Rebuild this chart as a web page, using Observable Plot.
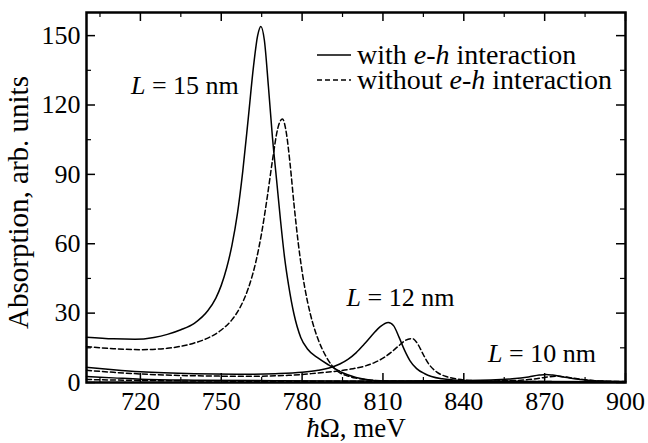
<!DOCTYPE html>
<html><head><meta charset="utf-8">
<script src="https://cdn.jsdelivr.net/npm/d3@7"></script>
<script src="https://cdn.jsdelivr.net/npm/@observablehq/plot@0.6"></script>
<style>
body{margin:0;background:#fff;}
#wrap{position:relative;width:648px;height:443px;font-family:"Liberation Serif",serif;}
#legend{position:absolute;left:316px;top:42px;font-family:"Liberation Serif",serif;font-size:28px;line-height:25px;color:#000;}
#legend .row{display:flex;align-items:center;white-space:nowrap;height:25px;}
#legend svg{margin-right:6px;}
#legend i{font-family:"Liberation Serif",serif;font-style:italic;}
</style></head><body><div id="wrap"></div>
<script>
// ---- data ----
const L15_with_x = [700,710,718,725,730,735,740,745,748,750,752,754,756,758,760,762,763.5,764.7,766,767.5,769,770.5,772,773.5,775,777,779.5,782,786,790,795,800,805,810,820,840,870,900];
const L15_with_y = [19.6,18.9,18.7,19.5,20.8,22.8,25.6,31,36.5,42,49.5,59.5,73,91.5,114,137,150,154,148,128,106,88,70,54,42,29.5,19.5,14.5,10.5,7.5,4.2,2.2,1.1,0.6,0.4,0.25,0.15,0.1];
const L15_without_x = [700,710,720,730,740,745,750,754,757,760,763,765,767,769,771,772.7,774,775.5,777,778.5,780,782,784,786,789,793,797,800,805,810,820,840,870,900];
const L15_without_y = [15.5,14.6,14.2,14.8,17.1,19.2,22.7,27.2,32.5,40.6,53,64.8,79.6,96,110,114,109,95,77,61,48,35,25.5,18.5,11,5,2.8,1.9,1.1,0.7,0.4,0.25,0.15,0.1];
const L12_with_x = [700,710,720,740,760,770,780,786,790,794,797,800,803,806,809,812,814,816,818,820,822.5,825.5,828,832,836,840,850,870,900];
const L12_with_y = [6.6,5.5,4.6,3.8,3.6,3.8,4.4,5.3,6.3,8,10,12.8,16.5,20.5,24.2,26,24.5,19.5,14,9.5,6,3.8,2.6,1.6,1.1,0.8,0.55,0.4,0.3];
const L12_without_x = [700,710,720,740,760,775,785,792,798,803,807,810,813,816,818.5,820.8,823,825,827,830,834,838,842,850,870,900];
const L12_without_y = [5.3,4.4,3.7,2.9,2.7,3.1,4,4.8,5.8,7,8.7,10.5,13,16,18.3,19,16.5,12,8,4.5,2.4,1.4,0.9,0.6,0.4,0.3];
const L10_with_x = [700,710,720,740,770,800,830,850,858,864,868,870.5,873,877,881,886,892,900];
const L10_with_y = [2.6,2,1.4,1,0.8,0.7,0.8,1.1,1.6,2.4,3.2,3.5,3.2,2.4,1.6,1,0.6,0.4];
const L10_without_x = [700,720,750,800,840,860,866,870,874,877,881,885,890,900];
const L10_without_y = [1.3,0.9,0.6,0.5,0.55,0.9,1.5,2.2,2.7,2.5,1.8,1.2,0.7,0.4];

const xMajorTicks = [720,750,780,810,840,870,900];
const xMinorTicks = [705,735,765,795,825,855,885];
const yMajorTicks = [0,30,60,90,120,150];
const yMinorTicks = [15,45,75,105,135];

const annLabels = ["*L* = 15 nm","*L* = 12 nm","*L* = 10 nm"];
const annX = [736.5,816.5,869];
const annY = [128.5,36.5,12.5];

const legendLabels = ["with *e-h* interaction","without *e-h* interaction"];
const xLabel = "*ħ*Ω, meV";
const yLabel = "Absorption, arb. units";

// ---- layout ----
const W = 648, H = 443, mL = 86, mR = 23, mT = 12, mB = 61;
const fW = W - mL - mR, fH = H - mT - mB;
const major = 9, minor = 5;

const zip = (xs, ys) => xs.map((x, i) => ({x, y: ys[i]}));
const curves = [
  {d: zip(L15_with_x, L15_with_y), dash: null},
  {d: zip(L15_without_x, L15_without_y), dash: "5,3"},
  {d: zip(L12_with_x, L12_with_y), dash: null},
  {d: zip(L12_without_x, L12_without_y), dash: "5,3"},
  {d: zip(L10_with_x, L10_with_y), dash: null},
  {d: zip(L10_without_x, L10_without_y), dash: "5,3"}
];

const tickMarks = (vals, len, sw) => [
  Plot.ruleX(vals, {x: d => d, insetTop: fH - len, stroke: "#000", strokeWidth: sw}),
  Plot.ruleX(vals, {x: d => d, insetBottom: fH - len, stroke: "#000", strokeWidth: sw})
];
const tickMarksY = (vals, len, sw) => [
  Plot.ruleY(vals, {y: d => d, insetRight: fW - len, stroke: "#000", strokeWidth: sw}),
  Plot.ruleY(vals, {y: d => d, insetLeft: fW - len, stroke: "#000", strokeWidth: sw})
];

const chart = Plot.plot({
  width: W, height: H,
  marginLeft: mL, marginRight: mR, marginTop: mT, marginBottom: mB,
  style: {fontFamily: "'Liberation Serif', serif", fontSize: "26px", background: "#fff", color: "#000"},
  x: {domain: [700, 900], label: null},
  y: {domain: [0, 160], label: null},
  marks: [
    ...curves.map(c => Plot.line(c.d, {x: "x", y: "y", curve: "monotone-x", stroke: "#000", strokeWidth: 1.5, strokeDasharray: c.dash})),
    ...tickMarks(xMajorTicks, major, 1.5),
    ...tickMarks(xMinorTicks, minor, 1.2),
    ...tickMarksY(yMajorTicks, major, 1.5),
    ...tickMarksY(yMinorTicks, minor, 1.2),
    Plot.axisX({ticks: xMajorTicks, tickSize: 0, tickPadding: 9, tickFormat: d => String(d), fontSize: 26}),
    Plot.axisY({ticks: yMajorTicks, tickSize: 0, tickPadding: 6, tickFormat: d => String(d), fontSize: 26}),
    Plot.text(annLabels, {x: (d, i) => annX[i], y: (d, i) => annY[i], text: d => d, fontSize: 26, textAnchor: "middle", lineAnchor: "middle"}),
    Plot.text([xLabel], {frameAnchor: "bottom", dy: 46, text: d => d, fontSize: 27, textAnchor: "middle", lineAnchor: "middle"}),
    Plot.text([yLabel], {frameAnchor: "left", dx: -68, dy: 5, rotate: -90, text: d => d, fontSize: 29, textAnchor: "middle", lineAnchor: "middle"}),
    Plot.frame({stroke: "#000", strokeWidth: 2.5})
  ]
});

const svgns = "http://www.w3.org/2000/svg";
chart.querySelectorAll("text").forEach(t => {
  if (t.children.length === 0 && t.textContent.includes("*")) {
    const parts = t.textContent.split("*");
    t.textContent = "";
    parts.forEach((p, i) => {
      if (!p) return;
      const s = document.createElementNS(svgns, "tspan");
      s.textContent = p;
      if (i % 2) s.setAttribute("font-style", "italic");
      t.appendChild(s);
    });
  }
});

const wrap = document.getElementById("wrap");
wrap.appendChild(chart);

const legend = document.createElement("div");
legend.id = "legend";
legendLabels.forEach((lab, i) => {
  const row = document.createElement("div");
  row.className = "row";
  const s = document.createElementNS(svgns, "svg");
  s.setAttribute("width", 35); s.setAttribute("height", 10);
  const ln = document.createElementNS(svgns, "line");
  ln.setAttribute("x1", 1); ln.setAttribute("x2", 35); ln.setAttribute("y1", 5); ln.setAttribute("y2", 5);
  ln.setAttribute("stroke", "#000"); ln.setAttribute("stroke-width", 1.5);
  if (i === 1) ln.setAttribute("stroke-dasharray", "5,3");
  s.appendChild(ln);
  row.appendChild(s);
  const span = document.createElement("span");
  lab.split("*").forEach((p, k) => {
    if (!p) return;
    const e = document.createElement(k % 2 ? "i" : "span");
    e.textContent = p;
    span.appendChild(e);
  });
  row.appendChild(span);
  legend.appendChild(row);
});
wrap.appendChild(legend);
</script>
</body></html>
